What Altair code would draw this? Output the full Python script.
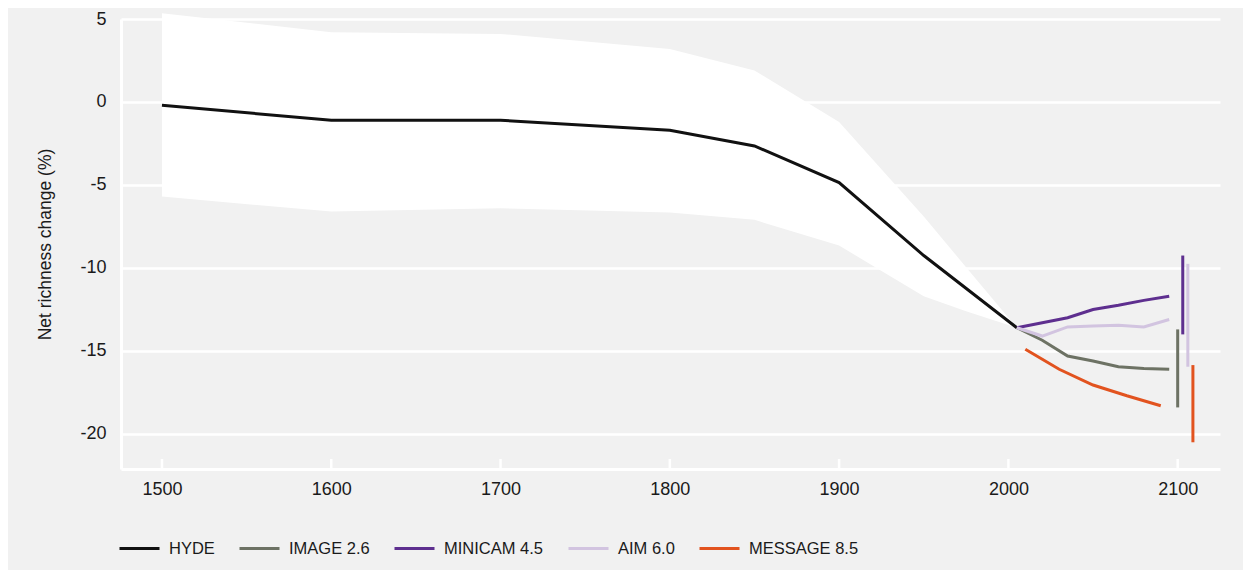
import altair as alt
import pandas as pd

# ---- data ----
series_names = ["HYDE", "IMAGE 2.6", "MINICAM 4.5", "AIM 6.0", "MESSAGE 8.5"]
series_colors = ["#111111", "#6d7264", "#5e2f8f", "#d2c4e0", "#e2531f"]

hyde_years = [1500, 1600, 1700, 1800, 1850, 1900, 1950, 2005]
hyde_vals = [-0.2, -1.1, -1.1, -1.7, -2.65, -4.85, -9.25, -13.6]

band_years = [1500, 1600, 1700, 1800, 1850, 1900, 1950, 1975, 2005]
band_upper = [5.35, 4.2, 4.1, 3.2, 1.9, -1.2, -6.9, -9.95, -13.6]
band_lower = [-5.7, -6.6, -6.4, -6.65, -7.1, -8.65, -11.7, -12.6, -13.6]

scen_years = [2005, 2020, 2035, 2050, 2065, 2080, 2095]
image_vals = [-13.6, -14.35, -15.3, -15.6, -15.95, -16.05, -16.1]
minicam_vals = [-13.6, -13.3, -13.0, -12.5, -12.25, -11.95, -11.7]
aim_vals = [-13.6, -14.1, -13.55, -13.5, -13.45, -13.55, -13.1]
message_years = [2010, 2030, 2050, 2070, 2090]
message_vals = [-14.9, -16.1, -17.05, -17.7, -18.3]

bar_series = ["IMAGE 2.6", "MINICAM 4.5", "AIM 6.0", "MESSAGE 8.5"]
bar_years = [2100, 2103, 2106, 2109]
bar_lo = [-18.4, -14.0, -15.95, -20.5]
bar_hi = [-13.7, -9.25, -9.75, -15.85]

x_ticks = [1500, 1600, 1700, 1800, 1900, 2000, 2100]
y_ticks = [-20, -15, -10, -5, 0, 5]

# ---- tables ----
rows = []
for y, v in zip(hyde_years, hyde_vals):
    rows.append({"series": "HYDE", "year": y, "value": v})
for name, vals in [("IMAGE 2.6", image_vals), ("MINICAM 4.5", minicam_vals), ("AIM 6.0", aim_vals)]:
    for y, v in zip(scen_years, vals):
        rows.append({"series": name, "year": y, "value": v})
for y, v in zip(message_years, message_vals):
    rows.append({"series": "MESSAGE 8.5", "year": y, "value": v})
lines_df = pd.DataFrame(rows)

band_df = pd.DataFrame({"year": band_years, "upper": band_upper, "lower": band_lower})
bars_df = pd.DataFrame({"series": bar_series, "year": bar_years, "lo": bar_lo, "hi": bar_hi})
ticks_df = pd.DataFrame({"year": x_ticks})

FONT = "Liberation Sans"
W, H = 1099, 450

xscale = alt.Scale(domain=[1475.8, 2125], nice=False, zero=False)
yscale = alt.Scale(domain=[-22.11, 5], nice=False, zero=False)
color = alt.Color(
    "series:N",
    scale=alt.Scale(domain=series_names, range=series_colors),
    sort=series_names,
    legend=alt.Legend(
        title=None,
        orient="none",
        direction="horizontal",
        legendX=-3,
        legendY=508,
        symbolType="stroke",
        symbolSize=1600,
        symbolStrokeWidth=3,
        labelFontSize=16.5,
        labelFont=FONT,
        labelColor="#1a1a1a",
        labelOffset=8,
        columnPadding=18,
        padding=0,
    ),
)

x_enc = alt.X(
    "year:Q",
    scale=xscale,
    axis=alt.Axis(
        values=x_ticks, title=None, grid=False, ticks=False,
        labelPadding=11, labelExpr="'' + datum.value",
    ),
)
y_axis = alt.Axis(
    values=y_ticks, title="Net richness change (%)", grid=True, ticks=False,
    labelPadding=15, labelExpr="'' + datum.value",
    titleX=-76, titleY=225, titleAngle=270, titleAlign="center", titleBaseline="middle",
    titleFontSize=17.5, titleFontWeight="normal",
)

band = alt.Chart(band_df).mark_area(color="white", opacity=1, clip=False).encode(
    x=x_enc,
    y=alt.Y("upper:Q", scale=yscale, axis=y_axis),
    y2="lower:Q",
)

tick_rules = alt.Chart(ticks_df).mark_rule(color="white", strokeWidth=2.5).encode(
    x=alt.X("year:Q", scale=xscale),
    y=alt.value(H),
    y2=alt.value(H - 10),
)

lines = alt.Chart(lines_df).mark_line(strokeWidth=3, clip=False).encode(
    x=alt.X("year:Q", scale=xscale),
    y=alt.Y("value:Q", scale=yscale),
    color=color,
    detail="series:N",
)

bars = alt.Chart(bars_df).mark_rule(strokeWidth=3).encode(
    x=alt.X("year:Q", scale=xscale),
    y=alt.Y("lo:Q", scale=yscale),
    y2="hi:Q",
    color=alt.Color("series:N", scale=alt.Scale(domain=series_names, range=series_colors), legend=None),
)

chart = alt.layer(band, tick_rules, lines, bars).properties(
    width=W,
    height=H,
    autosize=alt.AutoSizeParams(type="none"),
    padding={"left": 113, "top": 11, "right": 23, "bottom": 101},
    background="#f1f1f1",
).configure_view(
    stroke=None,
).configure_axis(
    labelFont=FONT,
    titleFont=FONT,
    labelFontSize=18,
    labelColor="#1a1a1a",
    titleColor="#1a1a1a",
    domainColor="white",
    domainWidth=3,
    gridColor="white",
    gridWidth=2.5,
)

chart.save("out.html", embed_options={"renderer": "svg", "actions": False})
